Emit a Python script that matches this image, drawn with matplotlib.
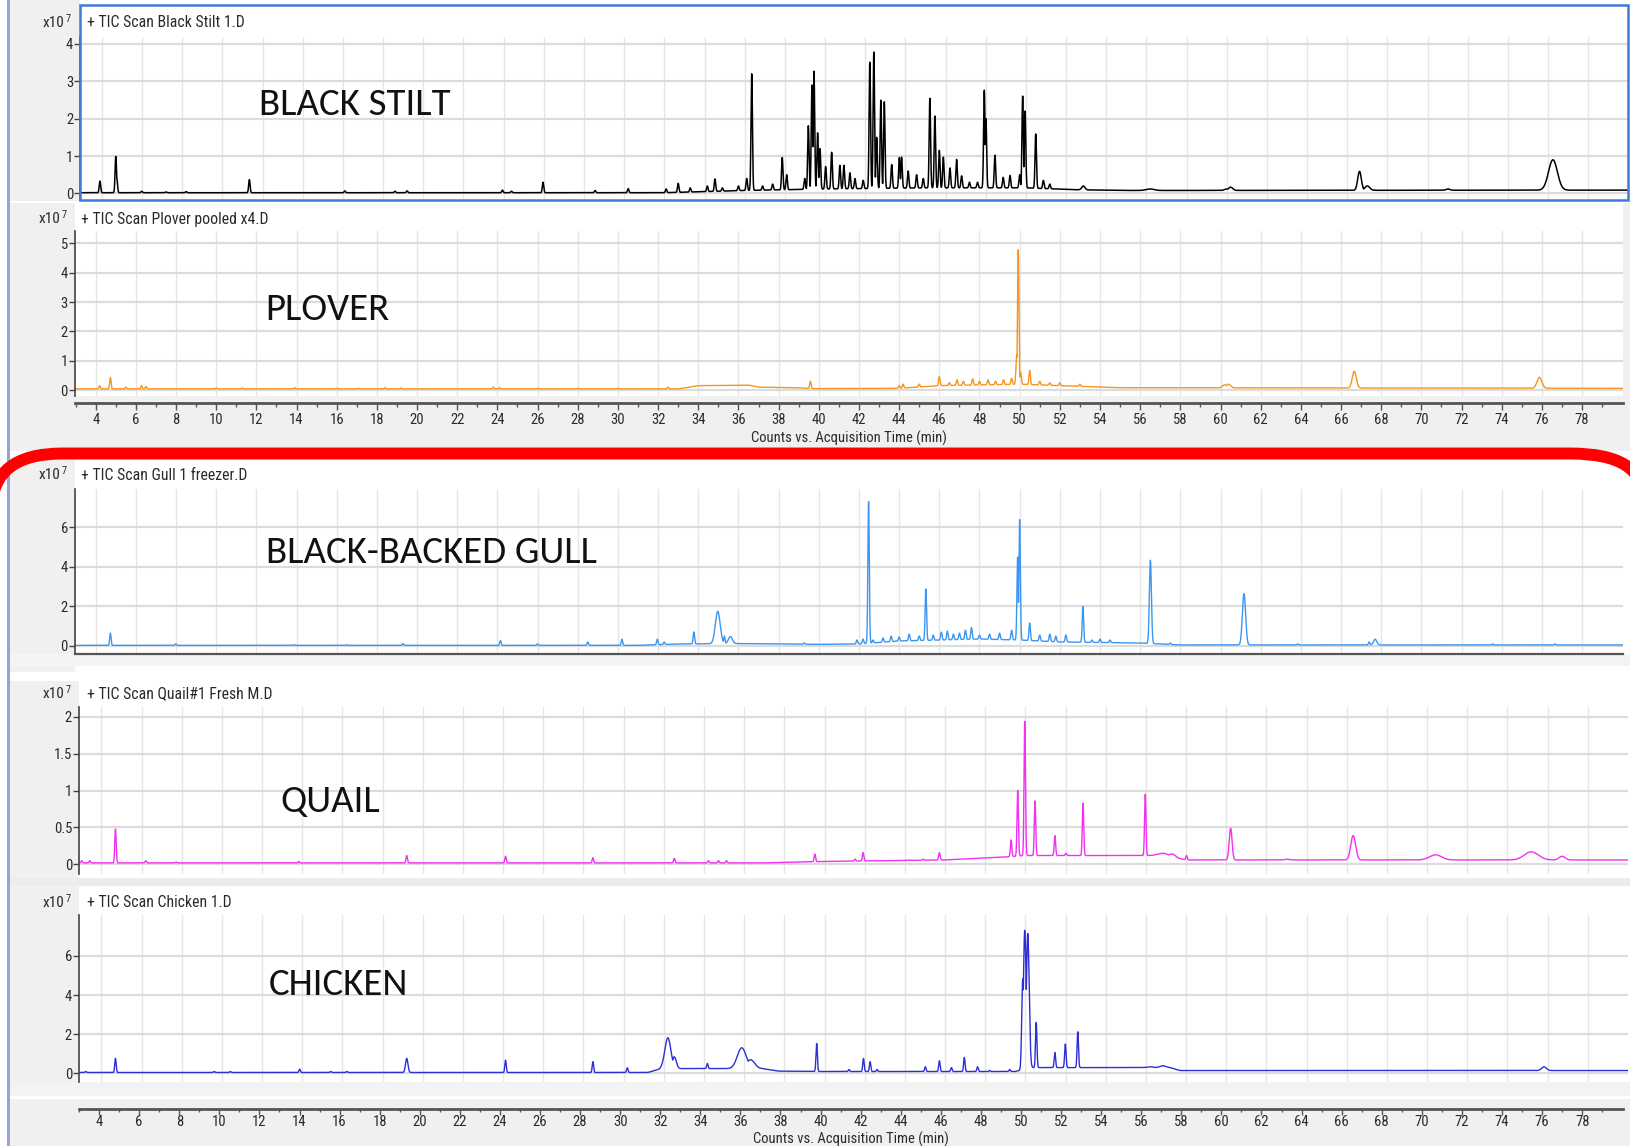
import numpy as np
import matplotlib
matplotlib.use("Agg")
import matplotlib.pyplot as plt
from matplotlib.patches import Rectangle, PathPatch
from matplotlib.path import Path
from matplotlib import font_manager as fm

# ------------------------------------------------------------------ data
time_ticks = list(range(4, 80, 2))
x_label = "Counts vs. Acquisition Time (min)"
scale_label = "x10"
scale_exp = "7"

titles = ["+ TIC Scan Black Stilt 1.D", "+ TIC Scan Plover pooled x4.D",
          "+ TIC Scan Gull 1 freezer.D", "+ TIC Scan Quail#1 Fresh M.D",
          "+ TIC Scan Chicken 1.D"]
species = ["BLACK STILT", "PLOVER", "BLACK-BACKED GULL", "QUAIL", "CHICKEN"]

stilt_yticks = [0, 1, 2, 3, 4]
plover_yticks = [0, 1, 2, 3, 4, 5]
gull_yticks = [0, 2, 4, 6]
quail_yticks = [0, 0.5, 1, 1.5, 2]
quail_yticklabels = ["0", "0.5", "1", "1.5", "2"]
chicken_yticks = [0, 2, 4, 6]

# Black stilt (counts x1e7)
stilt_base_t = [2.9, 32.0, 34.0, 36.0, 40.0, 45.0, 50.0, 52.5, 55.0, 80.0]
stilt_base_v = [0.02, 0.02, 0.05, 0.08, 0.12, 0.15, 0.15, 0.1, 0.08, 0.09]
stilt_peak_t = [3.90, 4.69, 4.74, 5.98, 7.19, 8.19, 11.34, 16.09, 18.59, 19.19,
                23.94, 24.39, 25.96, 28.55, 30.2, 32.09, 32.69, 33.29, 34.14, 34.52,
                34.89, 35.69, 36.1, 36.35, 36.89, 37.39, 37.87, 38.09, 38.99, 39.17,
                39.35, 39.45, 39.63, 39.75, 40.03, 40.33, 40.74, 40.94, 41.24, 41.49,
                41.9, 42.23, 42.43, 42.57, 42.78, 42.95, 43.32, 43.7, 43.81, 44.14,
                44.56, 44.89, 45.22, 45.47, 45.69, 45.89, 46.22, 46.55, 46.8, 47.19,
                47.59, 47.93, 48.01, 48.46, 48.87, 49.21, 49.69, 49.84, 49.96, 50.49,
                50.87, 51.19, 52.86, 56.19, 59.99, 60.19, 66.61, 67.0, 71.01, 76.24]
stilt_peak_h = [0.33, 0.99, 0.4, 0.06, 0.04, 0.05, 0.37, 0.07, 0.06, 0.07,
                0.09, 0.06, 0.3, 0.08, 0.13, 0.12, 0.27, 0.15, 0.2, 0.39,
                0.15, 0.2, 0.4, 3.2, 0.2, 0.25, 0.96, 0.5, 0.4, 1.81,
                2.9, 3.27, 1.62, 1.2, 0.72, 1.1, 0.75, 0.75, 0.55, 0.4,
                0.35, 3.51, 3.78, 1.5, 2.49, 2.45, 0.77, 0.96, 0.97, 0.6,
                0.5, 0.4, 2.54, 2.07, 1.15, 0.97, 0.68, 0.91, 0.47, 0.3,
                0.3, 2.76, 2.0, 1.02, 0.43, 0.48, 0.5, 2.6, 2.2, 1.59,
                0.35, 0.25, 0.2, 0.12, 0.12, 0.17, 0.59, 0.2, 0.12, 0.9]
stilt_wide = {52.86: 0.08, 56.19: 0.2, 59.99: 0.1, 60.19: 0.1, 66.61: 0.09,
              67.0: 0.12, 71.01: 0.1, 76.24: 0.22}

# Plover
plover_base_t = [2.9, 33.0, 34.0, 36.5, 37.0, 39.0, 39.5, 44.0, 46.0, 50.0, 52.0, 55.0, 80.0]
plover_base_v = [0.04, 0.04, 0.15, 0.17, 0.1, 0.08, 0.05, 0.06, 0.15, 0.2, 0.15, 0.08, 0.06]
plover_peak_t = [4.2, 4.73, 5.5, 6.28, 6.5, 10.0, 11.3, 13.9, 16.0, 17.1,
                 18.4, 19.2, 23.8, 24.1, 26.0, 28.0, 30.0, 32.5, 34.0, 39.58,
                 44.0, 44.2, 45.0, 46.0, 46.5, 46.88, 47.2, 47.66, 48.0, 48.43,
                 48.8, 49.2, 49.6, 49.85, 49.93, 50.05, 50.5, 51.0, 51.5, 52.0,
                 53.0, 60.2, 60.4, 66.66, 75.88]
plover_peak_h = [0.15, 0.43, 0.1, 0.15, 0.12, 0.07, 0.07, 0.08, 0.06, 0.06,
                 0.08, 0.07, 0.1, 0.08, 0.06, 0.06, 0.06, 0.1, 0.12, 0.3,
                 0.15, 0.2, 0.2, 0.46, 0.25, 0.35, 0.3, 0.38, 0.3, 0.35,
                 0.3, 0.35, 0.4, 1.2, 4.79, 0.6, 0.67, 0.3, 0.25, 0.25,
                 0.2, 0.18, 0.2, 0.64, 0.43]
plover_wide = {60.2: 0.1, 60.4: 0.1, 66.66: 0.1, 75.88: 0.12}

# Black-backed gull
gull_base_t = [2.9, 31.0, 33.0, 36.0, 40.0, 42.0, 44.0, 48.0, 50.0, 52.0, 56.0, 58.0, 80.0]
gull_base_v = [0.03, 0.03, 0.1, 0.12, 0.08, 0.1, 0.25, 0.35, 0.3, 0.2, 0.15, 0.05, 0.05]
gull_peak_t = [4.73, 7.99, 13.9, 16.5, 19.3, 24.15, 26.0, 28.5, 30.2, 31.96,
               32.3, 33.78, 34.97, 35.3, 35.6, 39.27, 41.9, 42.2, 42.48, 42.7,
               43.2, 43.6, 44.0, 44.5, 45.0, 45.33, 45.7, 46.1, 46.4, 46.7,
               47.0, 47.3, 47.6, 48.0, 48.5, 49.0, 49.6, 49.9, 50.0, 50.5,
               51.0, 51.5, 51.8, 52.3, 53.15, 53.6, 54.0, 54.5, 56.51, 57.5,
               61.17, 63.86, 67.4, 67.7, 73.55, 76.66]
gull_peak_h = [0.65, 0.1, 0.06, 0.06, 0.12, 0.27, 0.1, 0.2, 0.34, 0.34,
               0.2, 0.71, 1.75, 0.5, 0.48, 0.15, 0.3, 0.35, 7.31, 0.3,
               0.4, 0.5, 0.45, 0.6, 0.5, 2.89, 0.55, 0.7, 0.75, 0.6,
               0.65, 0.8, 0.93, 0.55, 0.6, 0.65, 0.8, 4.5, 6.39, 1.16,
               0.55, 0.6, 0.5, 0.55, 2.0, 0.3, 0.35, 0.3, 4.34, 0.15,
               2.65, 0.1, 0.2, 0.34, 0.1, 0.1]
gull_wide = {34.97: 0.12, 35.6: 0.1, 56.51: 0.05, 61.17: 0.08, 67.7: 0.08}

# Quail
quail_base_t = [2.9, 37.0, 40.0, 46.0, 49.0, 50.0, 57.0, 58.0, 80.0]
quail_base_v = [0.02, 0.02, 0.04, 0.06, 0.1, 0.12, 0.12, 0.06, 0.06]
quail_peak_t = [3.02, 3.42, 4.70, 6.21, 7.72, 13.82, 19.2, 24.12, 28.47, 32.52,
                34.22, 34.72, 35.12, 39.52, 41.52, 41.92, 44.22, 44.92, 45.72, 47.02,
                49.29, 49.62, 49.97, 50.48, 51.47, 52.02, 52.87, 54.22, 55.97, 56.82,
                57.32, 58.02, 60.22, 63.02, 66.32, 70.42, 75.19, 76.72]
quail_peak_h = [0.05, 0.05, 0.48, 0.05, 0.03, 0.04, 0.12, 0.11, 0.09, 0.08,
                0.05, 0.05, 0.05, 0.14, 0.07, 0.16, 0.06, 0.07, 0.16, 0.07,
                0.33, 1.0, 1.94, 0.86, 0.39, 0.15, 0.83, 0.12, 0.95, 0.15,
                0.14, 0.12, 0.49, 0.07, 0.39, 0.13, 0.17, 0.11]
quail_wide = {56.82: 0.25, 57.32: 0.15, 60.22: 0.07, 63.02: 0.1, 66.32: 0.12,
              70.42: 0.3, 75.19: 0.35, 76.72: 0.15}

# Chicken
chicken_base_t = [2.9, 31.2, 31.9, 36.9, 37.7, 39.7, 49.5, 50.3, 57.2, 57.7, 80.0]
chicken_base_v = [0.05, 0.05, 0.25, 0.25, 0.12, 0.1, 0.1, 0.3, 0.3, 0.15, 0.15]
chicken_peak_t = [3.22, 4.70, 9.62, 10.42, 13.87, 15.42, 16.22, 19.2, 24.12, 28.47,
                  30.18, 32.2, 32.52, 34.17, 35.88, 36.32, 39.61, 41.22, 41.94, 42.27,
                  42.62, 45.02, 45.72, 46.32, 46.96, 47.62, 48.22, 49.22, 49.87, 49.97,
                  50.12, 50.54, 51.47, 51.99, 52.61, 53.52, 56.22, 56.85, 60.92, 75.82]
chicken_peak_h = [0.1, 0.77, 0.1, 0.1, 0.22, 0.1, 0.1, 0.77, 0.68, 0.6,
                  0.29, 1.82, 0.85, 0.51, 1.31, 0.7, 1.53, 0.2, 0.77, 0.6,
                  0.2, 0.34, 0.65, 0.3, 0.82, 0.34, 0.15, 0.2, 4.85, 7.31,
                  7.14, 2.6, 1.07, 1.5, 2.13, 0.2, 0.34, 0.39, 0.15, 0.34]
chicken_wide = {19.2: 0.06, 32.2: 0.15, 32.52: 0.1, 35.88: 0.22, 36.32: 0.2,
                49.87: 0.05, 49.97: 0.07, 50.12: 0.07, 56.22: 0.15, 56.85: 0.15,
                60.92: 0.1, 75.82: 0.12}

# ------------------------------------------------------------------ helpers
W, H = 1631, 1146
S = W / 1568.0          # layout measured on a 1568-wide view
PX_PER_MIN = 19.31


def pick(fams, default):
    for f in fams:
        try:
            fm.findfont(fm.FontProperties(family=f), fallback_to_default=False)
            return f
        except Exception:
            pass
    return default


NARROW = pick(["Liberation Sans Narrow", "Roboto Condensed", "DejaVu Sans"], "DejaVu Sans")
BIG = pick(["Carlito", "Calibri", "Open Sans", "Lato"], "DejaVu Sans")

fig = plt.figure(figsize=(W / 100, H / 100), dpi=100)
fig.patch.set_facecolor("white")


def fx(xd):
    return xd * S / W


def fy(yd):
    return 1 - yd * S / H


def rect(x0, y0, x1, y1, color, z=-10):
    fig.patches.append(Rectangle((fx(x0), fy(y1)), fx(x1) - fx(x0), fy(y0) - fy(y1),
                                 transform=fig.transFigure, facecolor=color,
                                 edgecolor="none", zorder=z))


def tl(xd, off):
    return 4 + (xd - off) / PX_PER_MIN


t_grid = np.arange(2.8, 80.3, 0.004)


def build(bt, bv, pt, ph, wide):
    base = np.interp(t_grid, bt, bv)
    top = np.zeros_like(t_grid)
    for c, h in zip(pt, ph):
        w = wide.get(c, 0.035)
        amp = h - np.interp(c, bt, bv)
        top = np.maximum(top, amp * np.exp(-0.5 * ((t_grid - c) / w) ** 2))
    return base + top


GRAY = "#f0f0f0"
WIN = "#97a2d8"
AXC = "#444444"
TXT = "#2a2a2a"
SMALL = 10.5

# background strips
rect(10, 0, 77, 193, GRAY)
rect(10, 195, 72, 434, GRAY)
rect(10, 381, 1568, 434, GRAY)
rect(1560, 195, 1568, 381, GRAY)
rect(10, 440, 72, 646, GRAY)
rect(10, 629, 1568, 640, "#f4f4f4")
rect(10, 655, 76, 848, GRAY)
rect(10, 844, 1568, 852, "#ececec")
rect(10, 852, 76, 1044, GRAY)
rect(10, 1040, 1568, 1054, "#f3f3f3")
rect(10, 1057, 1568, 1102, GRAY)
rect(7, 0, 10, 1102, WIN)


def panel(x0, y0, x1, y1, off, v0, p0, v1, p1, yticks, ylabels, t, y, color, lw,
          bottom_spine=False):
    ax = fig.add_axes([fx(x0), fy(y1), fx(x1) - fx(x0), fy(y0) - fy(y1)])
    ax.set_xlim(tl(x0, off), tl(x1, off))
    ppu = (p0 - p1) / (v1 - v0)
    ax.set_ylim(v0 - (y1 - p0) / ppu, v1 + (p1 - y0) / ppu)
    ax.plot(t, y, color=color, lw=lw, solid_joinstyle="round")
    ax.set_xticks(time_ticks)
    ax.set_yticks(yticks)
    ax.set_yticklabels(ylabels, fontfamily=NARROW, fontsize=SMALL, color=TXT)
    ax.xaxis.grid(True, color="#e6e6e6", lw=1.0)
    ax.yaxis.grid(True, color="#dcdcdc", lw=1.6)
    ax.set_axisbelow(True)
    ax.tick_params(axis="x", length=0, labelbottom=False)
    ax.tick_params(axis="y", length=4, width=1, color=AXC, pad=1)
    for s in ["top", "right", "bottom"]:
        ax.spines[s].set_visible(False)
    ax.spines["left"].set_color(AXC)
    ax.spines["left"].set_linewidth(1.2)
    if bottom_spine:
        ax.spines["bottom"].set_visible(True)
        ax.spines["bottom"].set_color("#555555")
        ax.spines["bottom"].set_linewidth(1.6)
    return ax


def header(xe, y, title_x, title):
    fig.text(fx(xe), fy(y), scale_label, ha="right", va="center",
             fontfamily=NARROW, fontsize=SMALL + 0.5, color=TXT)
    fig.text(fx(xe + 1), fy(y - 4), scale_exp, ha="left", va="center",
             fontfamily=NARROW, fontsize=7.5, color=TXT)
    fig.text(fx(title_x), fy(y), title, ha="left", va="center",
             fontfamily=NARROW, fontsize=SMALL + 0.8, color=TXT)


def xstrip(x0, x1, yline, off, length, pad, labelpad):
    ax = fig.add_axes([fx(x0), fy(yline), fx(x1) - fx(x0), 0.0001])
    ax.set_facecolor("none")
    ax.set_xlim(tl(x0, off), tl(x1, off))
    ax.set_ylim(0, 1)
    ax.set_yticks([])
    for s in ["top", "right", "left"]:
        ax.spines[s].set_visible(False)
    ax.spines["bottom"].set_color("#555555")
    ax.spines["bottom"].set_linewidth(2.0)
    ax.set_xticks(time_ticks)
    ax.set_xticklabels([str(v) for v in time_ticks], fontfamily=NARROW,
                       fontsize=SMALL, color=TXT)
    ax.set_xticks(np.arange(3, 80, 1), minor=True)
    ax.tick_params(axis="x", which="major", length=length, width=1, color="#555555", pad=pad)
    ax.tick_params(axis="x", which="minor", length=length * 0.6, width=1, color="#555555")
    ax.set_xlabel(x_label, fontfamily=NARROW, fontsize=SMALL, color=TXT,
                  labelpad=labelpad)
    return ax


# traces
y_stilt = build(stilt_base_t, stilt_base_v, stilt_peak_t, stilt_peak_h, stilt_wide)
y_plover = build(plover_base_t, plover_base_v, plover_peak_t, plover_peak_h, plover_wide)
y_gull = build(gull_base_t, gull_base_v, gull_peak_t, gull_peak_h, gull_wide)
y_quail = build(quail_base_t, quail_base_v, quail_peak_t, quail_peak_h, quail_wide)
y_chicken = build(chicken_base_t, chicken_base_v, chicken_peak_t, chicken_peak_h, chicken_wide)

panel(77, 36, 1565, 192, 98, 0, 186, 4, 42, stilt_yticks,
      [str(v) for v in stilt_yticks], t_grid, y_stilt, "#000000", 1.1)
panel(72, 222, 1560, 381, 92, 0, 375, 5, 234, plover_yticks,
      [str(v) for v in plover_yticks], t_grid, y_plover, "#f7941d", 1.0)
panel(72, 470, 1560, 629, 92, 0, 621, 6, 507, gull_yticks,
      [str(v) for v in gull_yticks], t_grid, y_gull, "#3a96f2", 1.0, bottom_spine=True)
panel(76, 680, 1565, 840, 97.5, 0, 831, 2, 689, quail_yticks,
      quail_yticklabels, t_grid, y_quail, "#f230f2", 1.0)
panel(76, 880, 1565, 1040, 97.5, 0, 1032, 6, 919, chicken_yticks,
      [str(v) for v in chicken_yticks], t_grid, y_chicken, "#2e2ed6", 1.0)

# stilt blue frame
fig.patches.append(Rectangle((fx(77), fy(192)), fx(1565) - fx(77), fy(5) - fy(192),
                             transform=fig.transFigure, facecolor="none",
                             edgecolor="#3f7bd9", lw=1.8, zorder=4))

# x axes
xstrip(72, 1560, 387, 92, 5, 2.5, 3)
xstrip(76, 1560, 1066, 92, 4, 0.5, 2)

# headers
header(62, 22, 84, titles[0])
header(58, 211, 78, titles[1])
header(58, 457, 78, titles[2])
header(62, 667, 84, titles[3])
header(62, 868, 84, titles[4])

# species labels
for (lx, ly), name in zip([(249, 100), (255, 298), (256, 531), (270, 771), (258, 946)], species):
    fig.text(fx(lx), fy(ly), name, ha="left", va="center", fontfamily=BIG,
             fontsize=28, color="#111111", zorder=6)

# red highlight border
verts = [(-8, 490), (-8, 436), (60, 436), (1510, 436), (1580, 436), (1580, 480)]
verts = [(fx(a), fy(b)) for a, b in verts]
codes = [Path.MOVETO, Path.CURVE3, Path.CURVE3, Path.LINETO, Path.CURVE3, Path.CURVE3]
fig.patches.append(PathPatch(Path(verts, codes), transform=fig.transFigure,
                             facecolor="none", edgecolor="#ff0000", lw=8.6,
                             capstyle="butt", zorder=8))

fig.savefig("out.png", dpi=100)
